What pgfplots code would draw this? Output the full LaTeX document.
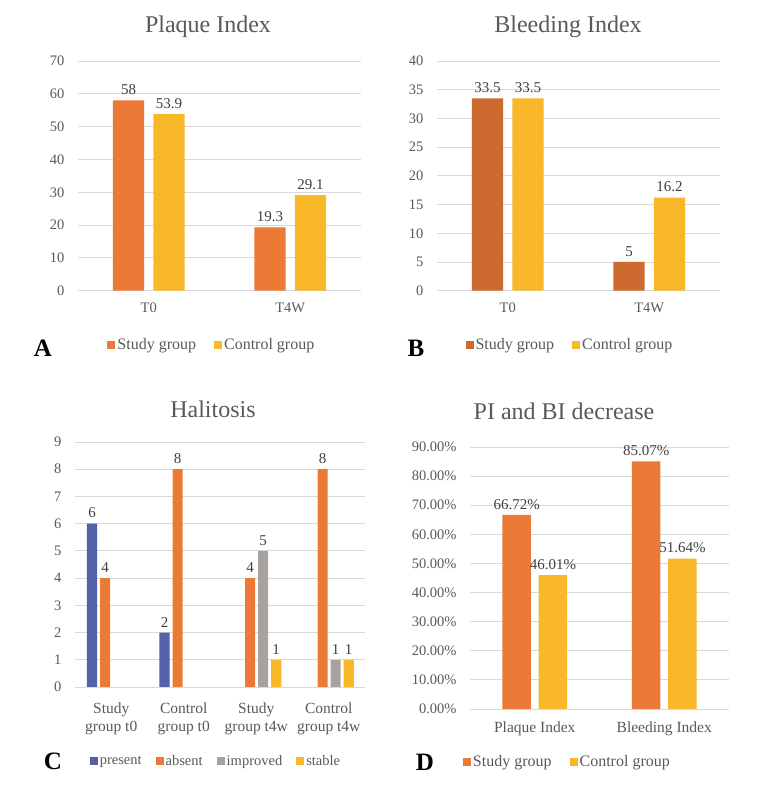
\documentclass[border=0pt]{standalone}
\usepackage{pgfplots}
\pgfplotsset{compat=1.18}
\usepackage{fontspec}
\setmainfont{Liberation Serif}
\definecolor{studyc}{HTML}{EA7A35}
\definecolor{studyb}{HTML}{CC6A30}
\definecolor{controlc}{HTML}{F9B82A}
\definecolor{presentc}{HTML}{5261A8}
\definecolor{improvedc}{HTML}{A6A2A0}
\definecolor{txt}{HTML}{595959}
\definecolor{gridc}{HTML}{D9D9D9}
\pgfplotsset{
  base/.style={
    scale only axis, anchor=south west, ybar,
    axis line style={draw=none},
    major tick length=0pt,
    ymajorgrids, grid style={gridc, line width=0.9pt},
    ymin=0,
    xtick=data,
    /pgf/number format/assume math mode=true,
    tick label style={font=\fontsize{14.5}{17}\selectfont, text=txt},
    yticklabel style={xshift=-10pt},
    xticklabel style={yshift=-9pt},
    nodes near coords,
    every node near coord/.append style={font=\fontsize{15}{18}\selectfont, text=black!75, yshift=2pt},
    legend style={draw=none, fill=none, font=\fontsize{16}{19}\selectfont, text=txt, legend columns=-1,
      /tikz/every even column/.append style={column sep=16pt}},
    legend image code/.code={\fill[##1] (0pt,-4pt) rectangle (8pt,4pt);},
  },
}
\begin{document}
\begin{tikzpicture}
\fill[white] (0,0) rectangle (762pt,789pt);
\path[use as bounding box] (0,0) rectangle (762pt,789pt);
% Panel A
\begin{axis}[base, at={(78pt,498.3pt)}, width=283pt, height=229.7pt,
  xmin=-0.5, xmax=1.5, ymax=70, ytick={0,10,...,70},
  xticklabels={T0,T4W}, bar width=0.22,
  legend style={at={(0.473,-0.236)}, anchor=center}]
\addplot[fill=studyc, draw=none, bar shift=-0.143] coordinates {(0,58) (1,19.3)};
\addplot[fill=controlc, draw=none, bar shift=0.143] coordinates {(0,53.9) (1,29.1)};
\legend{Study group, Control group}
\end{axis}
\node[text=txt, font=\fontsize{24}{28}\selectfont] at (208pt,762pt) {Plaque Index};
\node[font=\fontsize{25}{29}\bfseries] at (43pt,441pt) {A};
% Panel B
\begin{axis}[base, at={(437pt,498.3pt)}, width=283pt, height=229.7pt,
  xmin=-0.5, xmax=1.5, ymax=40, ytick={0,5,...,40},
  xticklabels={T0,T4W}, bar width=0.22,
  legend style={at={(0.47,-0.236)}, anchor=center}]
\addplot[fill=studyb, draw=none, bar shift=-0.143] coordinates {(0,33.5) (1,5)};
\addplot[fill=controlc, draw=none, bar shift=0.143] coordinates {(0,33.5) (1,16.2)};
\legend{Study group, Control group}
\end{axis}
\node[text=txt, font=\fontsize{24}{28}\selectfont] at (568pt,762pt) {Bleeding Index};
\node[font=\fontsize{25}{29}\bfseries] at (416pt,441pt) {B};
% Panel C
\begin{axis}[base, at={(75pt,102pt)}, width=290pt, height=245pt,
  xmin=-0.5, xmax=3.5, ymax=9, ytick={0,1,...,9}, xtick={0,1,2,3},
  xticklabels={Study\\group t0, Control\\group t0, Study\\group t4w, Control\\group t4w},
  xticklabel style={align=center, yshift=-3pt, font=\fontsize{15.5}{18.5}\selectfont},
  bar width=0.14,
  legend style={at={(0.486,-0.302)}, anchor=center, font=\fontsize{14.5}{17}\selectfont,
    /tikz/every even column/.append style={column sep=12pt}}]
\addplot[fill=presentc, draw=none, bar shift=-0.265] coordinates {(0,6) (1,2)};
\addplot[fill=studyc, draw=none, bar shift=-0.085] coordinates {(0,4) (1,8) (2,4) (3,8)};
\addplot[fill=improvedc, draw=none, bar shift=0.095] coordinates {(2,5) (3,1)};
\addplot[fill=controlc, draw=none, bar shift=0.275] coordinates {(2,1) (3,1)};
\legend{present, absent, improved, stable}
\end{axis}
\node[text=txt, font=\fontsize{24}{28}\selectfont] at (213pt,380pt) {Halitosis};
\node[font=\fontsize{25}{29}\bfseries] at (53pt,28pt) {C};
% Panel D
\begin{axis}[base, at={(470pt,80pt)}, width=259pt, height=262pt,
  xmin=-0.5, xmax=1.5, ymax=90, ytick={0,10,...,90},
  yticklabel={\pgfmathprintnumber[fixed,fixed zerofill,precision=2]{\tick}\%},
  xticklabels={Plaque Index, Bleeding Index}, bar width=0.22,
  xticklabel style={font=\fontsize{15.5}{18.5}\selectfont},
  nodes near coords={\pgfmathprintnumber[fixed,fixed zerofill,precision=2]{\pgfplotspointmeta}\%},
  legend style={at={(0.376,-0.202)}, anchor=center}]
\addplot[fill=studyc, draw=none, bar shift=-0.14] coordinates {(0,66.72) (1,85.07)};
\addplot[fill=controlc, draw=none, bar shift=0.14] coordinates {(0,46.01) (1,51.64)};
\legend{Study group, Control group}
\end{axis}
\node[text=txt, font=\fontsize{24}{28}\selectfont] at (564pt,378pt) {PI and BI decrease};
\node[font=\fontsize{25}{29}\bfseries] at (425pt,27pt) {D};
\end{tikzpicture}
\end{document}
